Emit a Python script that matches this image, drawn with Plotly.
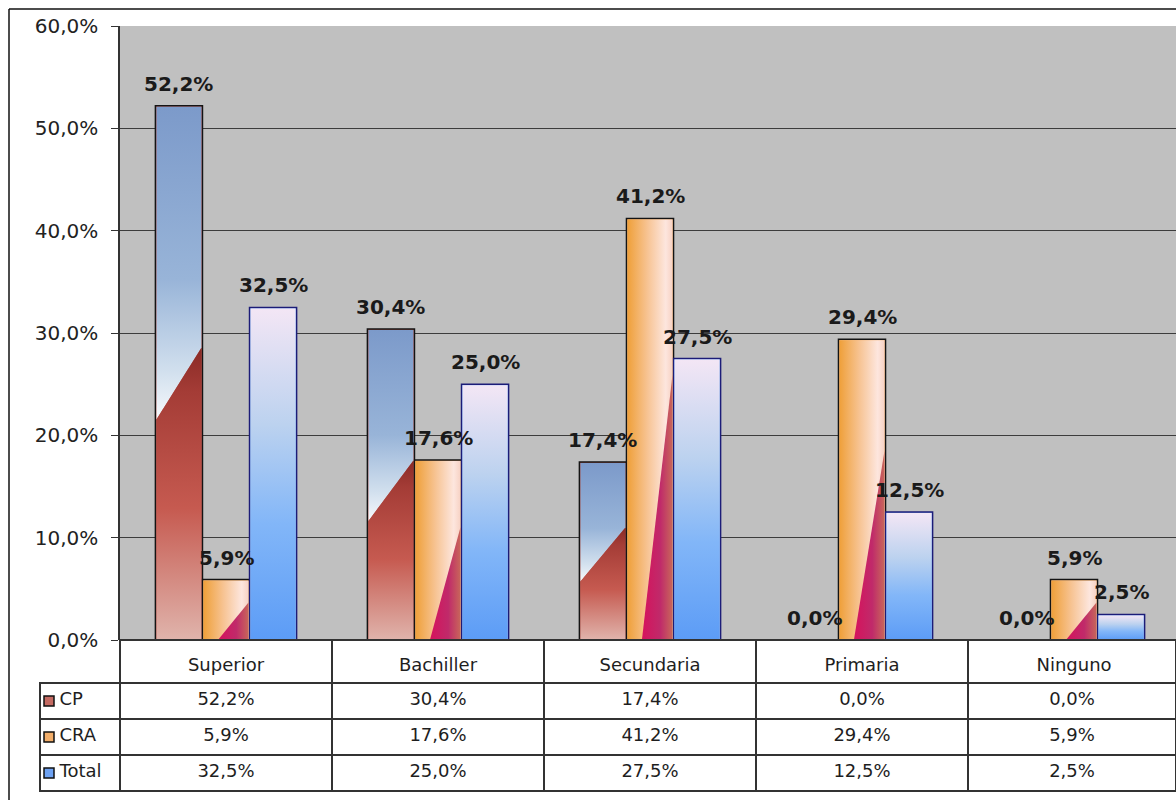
import plotly.graph_objects as go

# Education level shares by group
categories = ["Superior", "Bachiller", "Secundaria", "Primaria", "Ninguno"]
series = ["CP", "CRA", "Total"]
cp_values = [52.2, 30.4, 17.4, 0.0, 0.0]
cra_values = [5.9, 17.6, 41.2, 29.4, 5.9]
total_values = [32.5, 25.0, 27.5, 12.5, 2.5]
y_ticks = [0, 10, 20, 30, 40, 50, 60]

W_PX, H_PX = 1176, 800
FONT = "DejaVu Sans"
BAR_W = 0.222          # bar width in category units
DX, DY = 0.005, 0.1    # inset of shading inside the bar outline


def pct(v):
    return f"{v:.1f}%".replace(".", ",")


fig = go.Figure()

series_values = [cp_values, cra_values, total_values]
base_colors = ["#b65a52", "#f4b77a", "#94bcf4"]
edge_colors = ["#141414", "#141414", "#1c1c78"]
xs_idx = list(range(len(categories)))

for k, (name, vals) in enumerate(zip(series, series_values)):
    fig.add_trace(go.Bar(
        name=name, x=xs_idx, y=vals, width=BAR_W, offset=(k - 1.5) * BAR_W,
        marker=dict(color=base_colors[k], line=dict(color=edge_colors[k], width=1.5)),
        showlegend=False, hoverinfo="skip",
    ))


def shade(xs, ys, kind, stops):
    fig.add_trace(go.Scatter(
        x=xs + [xs[0]], y=ys + [ys[0]], mode="lines", line=dict(width=0),
        fill="toself", fillgradient=dict(type=kind, colorscale=stops),
        hoverinfo="skip", showlegend=False,
    ))


CP_UPPER = [[0, "#f7f9fc"], [0.15, "#d2e0ee"], [0.45, "#98b4d8"], [1, "#7c9aca"]]
CP_LOWER = [[0, "#e0b4ac"], [0.45, "#c65a50"], [0.85, "#a43c36"], [1, "#8a2a26"]]
CRA_BASE = [[0, "#efa03a"], [0.45, "#f7c494"], [0.85, "#fde6de"], [1, "#f7d2c4"]]
CRA_BAND = [[0, "#d6125c"], [0.6, "#c02a6a"], [1, "#c8665a"]]
TOTAL_BASE = [[0, "#5c9cf6"], [0.35, "#82b6f8"], [0.65, "#bcd2ef"], [1, "#f3e6f5"]]

for i in xs_idx:
    # CP: blue top, white sheen, dark red lower wedge
    v = cp_values[i]
    if v > 0:
        x0, x1, top = i - 1.5 * BAR_W + DX, i - 0.5 * BAR_W - DX, v - DY
        c, d = 0.48 * v, min(4.4 + 0.05 * v, 0.6 * v)
        yl, yr = max(c - d / 2, 0), min(c + d / 2, top)
        shade([x0, x1, x1, x0], [yl, yr, top, top], "vertical", CP_UPPER)
        shade([x0, x1, x1, x0], [0, 0, yr, yl], "vertical", CP_LOWER)
    # CRA: orange to peach, magenta wedge on the lower right
    v = cra_values[i]
    if v > 0:
        x0, x1, top = i - 0.5 * BAR_W + DX, i + 0.5 * BAR_W - DX, v - DY
        shade([x0, x1, x1, x0], [0, 0, top, top], "horizontal", CRA_BASE)
        shade([x0 + 0.32 * (x1 - x0), x1, x1], [0, 0.63 * top, 0], "horizontal", CRA_BAND)
    # Total: lavender top fading to blue
    v = total_values[i]
    if v > 0:
        x0, x1, top = i + 0.5 * BAR_W + DX, i + 1.5 * BAR_W - DX, v - DY
        shade([x0, x1, x1, x0], [0, 0, top, top], "vertical", TOTAL_BASE)

# Value labels above the bars
annotations = []
for k, vals in enumerate(series_values):
    for i, v in enumerate(vals):
        annotations.append(dict(
            x=i + (k - 1) * BAR_W, y=v, xref="x", yref="y", text=pct(v),
            showarrow=False, yanchor="middle", yshift=22,
            font=dict(family=FONT, size=20, color="#1a1a1a", weight="bold"),
        ))

# Data table under the chart; the category row uses the x-axis tick labels
first_col = ["\u00a0\u00a0" + s for s in series]
cell_cols = [first_col] + [[pct(cp_values[i]), pct(cra_values[i]), pct(total_values[i])] for i in xs_idx]
fig.add_trace(go.Table(
    domain=dict(x=[40 / W_PX, 1], y=[0.0, 0.2]),
    columnwidth=[80, 212, 212, 212, 212, 208],
    header=dict(
        values=[""] * 6, height=43, fill_color="rgba(0,0,0,0)",
        line=dict(color=["rgba(0,0,0,0)"] + ["#333333"] * 5, width=1.5),
    ),
    cells=dict(
        values=cell_cols, height=36, fill_color="white",
        line=dict(color="#333333", width=1.5),
        font=dict(family=FONT, size=18, color="#1e1e1e"),
        align=["left"] + ["center"] * 5,
    ),
))

# Legend keys in the table's first column
key_fill = ["#c46a62", "#f2ae6a", "#6ea2f2"]
shapes = []
for r, col in enumerate(key_fill):
    yc = 683 + 36 * r + 18
    shapes.append(dict(
        type="rect", xref="paper", yref="paper",
        x0=44 / W_PX, x1=54 / W_PX, y0=1 - (yc + 5) / H_PX, y1=1 - (yc - 5) / H_PX,
        fillcolor=col, line=dict(color="#111111", width=1.5), layer="above",
    ))

# Outer chart frame
shapes.append(dict(type="line", xref="paper", yref="paper", x0=9 / W_PX, x1=1,
                   y0=1 - 9 / H_PX, y1=1 - 9 / H_PX, line=dict(color="#111111", width=1.5)))
shapes.append(dict(type="line", xref="paper", yref="paper", x0=9 / W_PX, x1=9 / W_PX,
                   y0=0, y1=1 - 9 / H_PX, line=dict(color="#111111", width=1.5)))

fig.update_layout(
    width=W_PX, height=H_PX, margin=dict(l=0, r=0, t=0, b=0, autoexpand=False),
    paper_bgcolor="white", plot_bgcolor="#c0c0c0",
    barmode="overlay", showlegend=False,
    xaxis=dict(domain=[120 / W_PX, 1], range=[-0.5, -0.5 + 1056 / 212],
               tickvals=xs_idx, ticktext=categories, ticks="",
               ticklabelstandoff=12, automargin=False,
               tickfont=dict(family=FONT, size=18, color="#1e1e1e"),
               showgrid=False, zeroline=False, showline=False),
    yaxis=dict(domain=[0.2, 1 - 26 / H_PX], range=[0, 60], tickvals=y_ticks,
               ticktext=[pct(t) for t in y_ticks], automargin=False,
               showgrid=True, gridcolor="#3c3c3c", gridwidth=1,
               showline=True, linecolor="#333333", linewidth=1.5,
               ticks="outside", ticklen=7, tickcolor="#333333",
               ticklabelstandoff=9, zeroline=False,
               tickfont=dict(family=FONT, size=20, color="#222222")),
    annotations=annotations, shapes=shapes,
)

fig.write_html("out.html")
